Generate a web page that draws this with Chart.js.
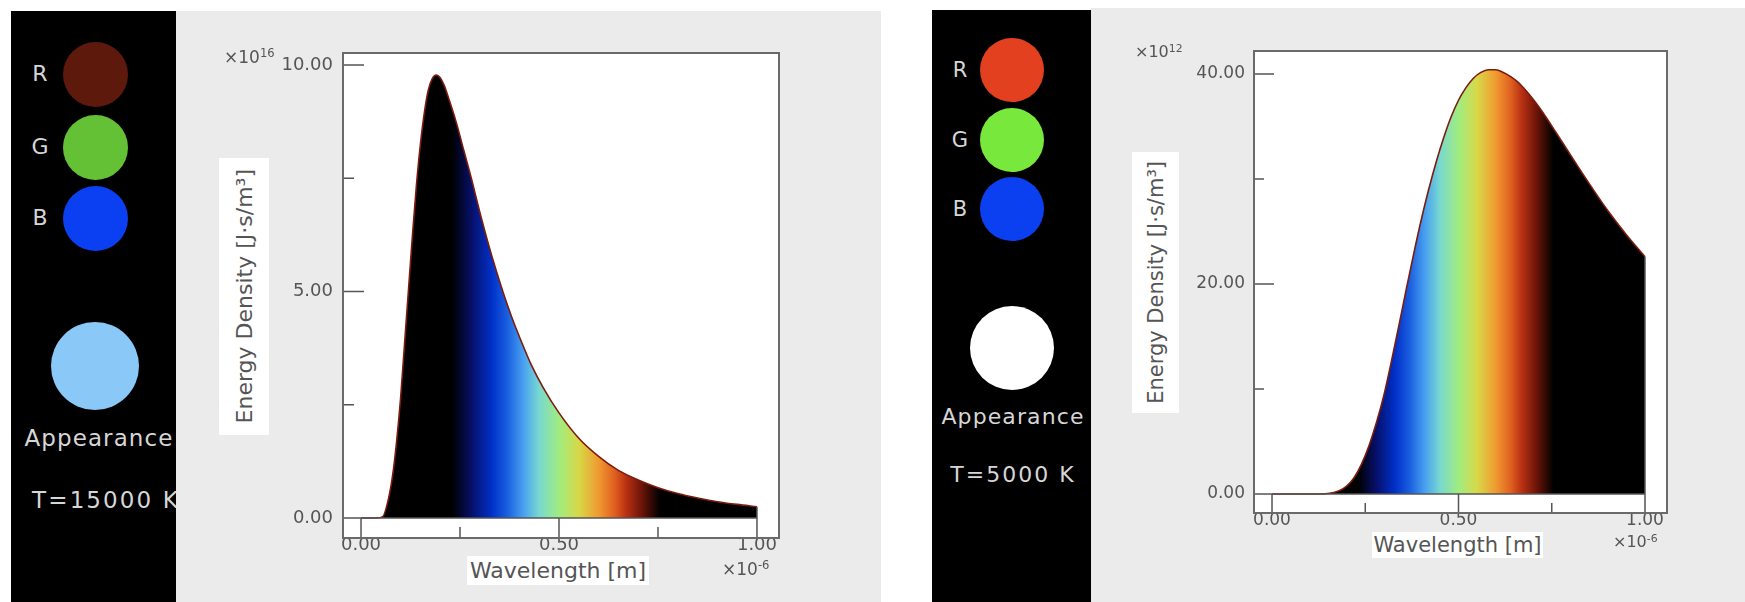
<!DOCTYPE html>
<html>
<head>
<meta charset="utf-8">
<script src="https://cdn.jsdelivr.net/npm/chart.js@4.4.1/dist/chart.umd.min.js"></script>
<style>
  body { margin: 0; width: 1745px; height: 602px; background: #fff; position: relative; overflow: hidden; font-family: "DejaVu Sans", sans-serif; }
  .panel { position: absolute; background: #ebebeb; }
  .side { position: absolute; background: #000; overflow: hidden; }
  .dot { position: absolute; border-radius: 50%; }
  .txt { position: absolute; color: #d6d6d6; white-space: nowrap; line-height: 1; transform: translate(-50%, -50%); }
  .wrap { position: absolute; }
  .title { position: absolute; background: #fff; color: #555; display: flex; align-items: center; justify-content: center; white-space: nowrap; }
  .vert { writing-mode: vertical-rl; transform: rotate(180deg); }
  .mult { position: absolute; color: #555; white-space: nowrap; line-height: 1; }
  .mult sup { font-size: 0.68em; vertical-align: 0.5em; }
</style>
</head>
<body>

<div class="panel" style="left:176px;top:11px;width:705px;height:591px"></div>
<div class="panel" style="left:1091px;top:8px;width:654px;height:594px"></div>

<!-- left side bar, T = 15000 K -->
<div class="side" style="left:11px;top:11px;width:165px;height:591px">
  <div class="txt" style="left:29px;top:63px;font-size:22px">R</div>
  <div class="txt" style="left:29px;top:136px;font-size:22px">G</div>
  <div class="txt" style="left:29px;top:207px;font-size:22px">B</div>
  <div class="dot" style="left:52px;top:31px;width:65px;height:65px;background:#5e190d"></div>
  <div class="dot" style="left:52px;top:104px;width:65px;height:65px;background:#64c136"></div>
  <div class="dot" style="left:52px;top:175px;width:65px;height:65px;background:#0a3ff2"></div>
  <div class="dot" style="left:40px;top:311px;width:88px;height:88px;background:#8ac8f8"></div>
  <div class="txt" style="left:88px;top:427px;font-size:23px;letter-spacing:1.1px">Appearance</div>
  <div class="txt" style="left:95px;top:489px;font-size:23px;letter-spacing:2.1px">T=15000 K</div>
</div>

<!-- right side bar, T = 5000 K -->
<div class="side" style="left:932px;top:10px;width:159px;height:592px">
  <div class="txt" style="left:28px;top:60px;font-size:21px">R</div>
  <div class="txt" style="left:28px;top:130px;font-size:21px">G</div>
  <div class="txt" style="left:28px;top:199px;font-size:21px">B</div>
  <div class="dot" style="left:48px;top:28px;width:64px;height:64px;background:#e2401f"></div>
  <div class="dot" style="left:48px;top:98px;width:64px;height:64px;background:#78e83c"></div>
  <div class="dot" style="left:48px;top:167px;width:64px;height:64px;background:#0a40f0"></div>
  <div class="dot" style="left:38px;top:296px;width:84px;height:84px;background:#ffffff"></div>
  <div class="txt" style="left:81px;top:407px;font-size:22px;letter-spacing:1.1px">Appearance</div>
  <div class="txt" style="left:81px;top:465px;font-size:22px;letter-spacing:2px">T=5000 K</div>
</div>

<div class="wrap" style="left:263px;top:40px"><canvas id="hot" width="540" height="562"></canvas></div>
<div class="wrap" style="left:1178px;top:38px"><canvas id="sun" width="512" height="564"></canvas></div>

<div class="title" style="left:219px;top:158px;width:50px;height:277px"><span class="vert" style="font-size:22px">Energy Density [J·s/m³]</span></div>
<div class="title" style="left:467px;top:556px;width:182px;height:29px;font-size:22px">Wavelength [m]</div>
<div class="mult" style="left:224px;top:48px;font-size:17px">×10<sup>16</sup></div>
<div class="mult" style="left:722px;top:560px;font-size:17px">×10<sup>-6</sup></div>

<div class="title" style="left:1132px;top:152px;width:47px;height:261px"><span class="vert" style="font-size:21px">Energy Density [J·s/m³]</span></div>
<div class="title" style="left:1372px;top:532px;width:171px;height:26px;font-size:21px">Wavelength [m]</div>
<div class="mult" style="left:1135px;top:44px;font-size:16px">×10<sup>12</sup></div>
<div class="mult" style="left:1613px;top:534px;font-size:16px">×10<sup>-6</sup></div>

<script>
// wavelength in units of 1e-6 m, energy density in units of 1e16 / 1e12
const wavelength15000 = [0, 0.04, 0.055, 0.07, 0.08, 0.09, 0.10, 0.11, 0.12, 0.13, 0.14, 0.15, 0.16, 0.17, 0.18, 0.19, 0.20, 0.21, 0.22, 0.24, 0.26, 0.28, 0.30, 0.32, 0.34, 0.36, 0.38, 0.40, 0.43, 0.46, 0.50, 0.55, 0.60, 0.65, 0.70, 0.75, 0.80, 0.85, 0.90, 0.95, 1.00];
const density15000 = [0, 0, 0.03, 0.45, 0.95, 1.7, 2.65, 3.85, 5.05, 6.25, 7.35, 8.25, 8.95, 9.45, 9.7, 9.78, 9.72, 9.55, 9.3, 8.75, 8.1, 7.45, 6.75, 6.1, 5.5, 4.95, 4.45, 4.0, 3.38, 2.88, 2.32, 1.76, 1.36, 1.05, 0.84, 0.67, 0.54, 0.44, 0.36, 0.3, 0.25];

const wavelength5000 = [0, 0.10, 0.15, 0.18, 0.20, 0.22, 0.24, 0.26, 0.28, 0.30, 0.32, 0.34, 0.36, 0.38, 0.40, 0.42, 0.44, 0.46, 0.48, 0.50, 0.52, 0.54, 0.56, 0.58, 0.60, 0.62, 0.64, 0.66, 0.68, 0.70, 0.72, 0.74, 0.76, 0.78, 0.82, 0.86, 0.90, 0.95, 1.00];
const density5000 = [0, 0, 0.05, 0.3, 0.75, 1.55, 2.85, 4.6, 6.8, 9.4, 12.6, 16.0, 19.5, 22.9, 26.1, 29.0, 31.6, 33.9, 35.9, 37.5, 38.7, 39.6, 40.15, 40.4, 40.4, 40.15, 39.75, 39.2, 38.45, 37.6, 36.65, 35.6, 34.5, 33.4, 31.2, 29.05, 27.0, 24.7, 22.6];

const xTicks = [0, 0.25, 0.5, 0.75, 1];
const yTicks15000 = [0, 2.5, 5, 7.5, 10];
const yTicks5000 = [0, 10, 20, 30, 40];

// colour under the curve by wavelength
const spectrum = [
  [0.23, '#000000'], [0.28, '#06106a'], [0.33, '#0030c8'], [0.37, '#1a60e0'],
  [0.41, '#48a0f0'], [0.45, '#78d8d0'], [0.50, '#a0ec80'], [0.55, '#d8d848'],
  [0.60, '#f09a30'], [0.64, '#e06020'], [0.67, '#b83012'], [0.71, '#6a1408'],
  [0.755, '#000000']
];

const frame = {
  id: 'frame',
  beforeDraw(chart) {
    const { ctx, chartArea: a } = chart;
    ctx.save();
    ctx.fillStyle = '#fff';
    ctx.fillRect(a.left, a.top, a.right - a.left, a.bottom - a.top);
    ctx.restore();
  },
  afterDatasetsDraw(chart, args, opts) {
    const { ctx, chartArea: a, scales: { x, y } } = chart;
    const y0 = y.getPixelForValue(0);
    const x1 = x.getPixelForValue(1);
    const pts = chart.data.datasets[0].data;
    ctx.save();
    ctx.strokeStyle = '#555';
    ctx.lineWidth = 1.5;
    ctx.beginPath();
    ctx.moveTo(a.left, y0);
    ctx.lineTo(x1, y0);
    ctx.moveTo(x1, y0);
    ctx.lineTo(x1, y.getPixelForValue(pts[pts.length - 1].y));
    xTicks.forEach((v, i) => {
      const px = x.getPixelForValue(v);
      ctx.moveTo(px, a.bottom);
      ctx.lineTo(px, i % 2 ? a.bottom - opts.minor : y0);
    });
    opts.yTicks.forEach((v, i) => {
      const py = y.getPixelForValue(v);
      ctx.moveTo(a.left, py);
      ctx.lineTo(a.left + (i % 2 ? opts.minor : opts.major), py);
    });
    ctx.stroke();
    ctx.lineWidth = 2;
    ctx.strokeStyle = '#6a6a6a';
    ctx.strokeRect(a.left, a.top, a.right - a.left, a.bottom - a.top);
    ctx.restore();
  }
};

function spectrumFill(context) {
  const chart = context.chart;
  if (!chart.chartArea) return null;
  const x = chart.scales.x;
  const g = chart.ctx.createLinearGradient(x.getPixelForValue(0), 0, x.getPixelForValue(1), 0);
  spectrum.forEach(s => g.addColorStop(s[0], s[1]));
  return g;
}

function noPadding(s) {
  s.paddingTop = 0; s.paddingBottom = 0; s.paddingLeft = 0; s.paddingRight = 0;
}

function drawPlanck(id, xs, ys, yTicks, c) {
  return new Chart(document.getElementById(id), {
    type: 'line',
    data: {
      datasets: [{
        data: xs.map((v, i) => ({ x: v, y: ys[i] })),
        borderColor: '#7c1c0e',
        borderWidth: 1.6,
        backgroundColor: spectrumFill,
        fill: 'origin',
        pointRadius: 0,
        cubicInterpolationMode: 'monotone'
      }]
    },
    options: {
      responsive: false,
      animation: false,
      layout: { padding: { left: 0, top: c.padTop, right: c.padRight, bottom: 0 } },
      plugins: {
        legend: { display: false },
        tooltip: { enabled: false },
        frame: { yTicks: yTicks, major: c.major, minor: c.minor }
      },
      scales: {
        x: {
          type: 'linear',
          min: c.xMin, max: c.xMax,
          afterBuildTicks: s => { s.ticks = xTicks.map(v => ({ value: v })); },
          afterFit: s => { s.height = c.xAxisH; noPadding(s); },
          grid: { display: false, drawTicks: false },
          border: { display: false },
          ticks: {
            autoSkip: false, maxRotation: 0, padding: -3, color: '#555',
            font: { family: 'DejaVu Sans', size: c.font },
            callback: (v, i) => i % 2 ? '' : v.toFixed(2)
          }
        },
        y: {
          min: c.yMin, max: c.yMax,
          afterBuildTicks: s => { s.ticks = yTicks.map(v => ({ value: v })); },
          afterFit: s => { s.width = c.yAxisW; noPadding(s); },
          grid: { display: false, drawTicks: false },
          border: { display: false },
          ticks: {
            autoSkip: false, padding: c.labelGap, color: '#555',
            font: { family: 'DejaVu Sans', size: c.font },
            callback: (v, i) => i % 2 ? '' : v.toFixed(2)
          }
        }
      }
    },
    plugins: [frame]
  });
}

drawPlanck('hot', wavelength15000, density15000, yTicks15000, {
  xMin: -0.0455, xMax: 1.0556, yMin: -0.4415, yMax: 10.265,
  padTop: 13, padRight: 24, yAxisW: 80, xAxisH: 64,
  font: 18, labelGap: 10, major: 21, minor: 11
});

drawPlanck('sun', wavelength5000, density5000, yTicks5000, {
  xMin: -0.0483, xMax: 1.059, yMin: -1.81, yMax: 42.19,
  padTop: 13, padRight: 23, yAxisW: 76, xAxisH: 89,
  font: 17, labelGap: 9, major: 20, minor: 10
});
</script>
</body>
</html>
